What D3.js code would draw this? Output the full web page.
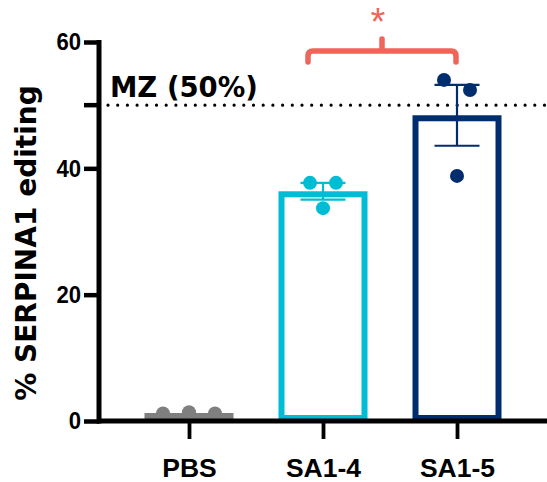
<!DOCTYPE html>
<html>
<head>
<meta charset="utf-8">
<script src="https://cdn.jsdelivr.net/npm/d3@7"></script>
<style>
  body { margin: 0; background: #fff; }
  svg { display: block; }
</style>
</head>
<body>
<svg width="547" height="482"></svg>
<script>
// groups and the three replicate values for each (% editing)
var groups = ['PBS', 'SA1-4', 'SA1-5'];
var pbsValues = [1.2, 1.4, 1.2];
var sa14Values = [37.7, 37.7, 33.7];
var sa15Values = [54.0, 52.4, 38.8];
var yTicks = [0, 20, 40, 60];
var mzLevel = 50;
var mzLabel = 'MZ (50%)';
var colors = ['#7f7f7f', '#00bcd4', '#002d6e'];

var allValues = [pbsValues, sa14Values, sa15Values];

var svg = d3.select('svg');

var y = d3.scaleLinear().domain([0, 60]).range([421, 42]);
var x = d3.scalePoint().domain(groups).range([189, 457]);

var barWidth = 89;
var barStroke = 6;
var dotR = 7;

// stats
var stats = allValues.map(function(v) {
  var m = d3.mean(v);
  var sem = d3.deviation(v) / Math.sqrt(v.length);
  return { mean: m, sem: sem };
});

// dotted MZ line
svg.append('line')
  .attr('x1', 108).attr('x2', 547)
  .attr('y1', y(mzLevel)).attr('y2', y(mzLevel))
  .attr('stroke', '#000')
  .attr('stroke-width', 3.2)
  .attr('stroke-linecap', 'round')
  .attr('stroke-dasharray', '0,9.7');

svg.append('text')
  .attr('x', 110).attr('y', y(mzLevel) - 8)
  .attr('font-family', 'DejaVu Sans, Verdana, sans-serif')
  .attr('font-weight', 'bold')
  .attr('font-size', 27.5)
  .text(mzLabel);

// bars (outline drawn inside the bar rectangle)
groups.forEach(function(g, i) {
  var top = y(stats[i].mean);
  var h = y(0) - top;
  var half = barStroke / 2;
  var rh = Math.max(h - barStroke, 0.5);
  svg.append('rect')
    .attr('x', x(g) - barWidth / 2 + half)
    .attr('y', top + half)
    .attr('width', barWidth - barStroke)
    .attr('height', rh)
    .attr('fill', h < barStroke ? colors[i] : 'none')
    .attr('stroke', colors[i])
    .attr('stroke-width', h < barStroke ? 0 : barStroke);
});

// simple beeswarm offsets: neighbours closer than a dot diameter sit side by side
function offsets(vals) {
  var res = vals.map(function() { return 0; });
  var used = vals.map(function() { return false; });
  for (var i = 0; i < vals.length; i++) {
    if (used[i]) continue;
    var grp = [i];
    used[i] = true;
    for (var j = i + 1; j < vals.length; j++) {
      if (!used[j] && Math.abs(y(vals[j]) - y(vals[i])) < dotR * 2) {
        grp.push(j); used[j] = true;
      }
    }
    grp.forEach(function(k, n) { res[k] = (n - (grp.length - 1) / 2) * 26; });
  }
  return res;
}

// dots
groups.forEach(function(g, i) {
  var off = offsets(allValues[i]);
  svg.selectAll(null)
    .data(allValues[i])
    .enter()
    .append('circle')
      .attr('cx', function(d, k) { return x(g) + off[k]; })
      .attr('cy', function(d) { return y(d); })
      .attr('r', dotR)
      .attr('fill', colors[i]);
});

// error bars (SEM)
groups.forEach(function(g, i) {
  if (i === 0) return;
  var s = stats[i];
  var eg = svg.append('g').attr('stroke', colors[i]).attr('stroke-width', 2.2);
  eg.append('line')
    .attr('x1', x(g)).attr('x2', x(g))
    .attr('y1', y(s.mean + s.sem)).attr('y2', y(s.mean - s.sem));
  [s.mean + s.sem, s.mean - s.sem].forEach(function(v) {
    eg.append('line')
      .attr('x1', x(g) - 22.5).attr('x2', x(g) + 22.5)
      .attr('y1', y(v)).attr('y2', y(v));
  });
});

// y axis
var yAxis = svg.append('g')
  .attr('transform', 'translate(99,0)')
  .call(d3.axisLeft(y).tickValues(yTicks).tickSize(15).tickPadding(3).tickSizeOuter(0));
yAxis.select('.domain').remove();
yAxis.selectAll('.tick line').attr('stroke', '#000').attr('stroke-width', 4.5);
// condensed look of the tick numbers
yAxis.selectAll('.tick text')
  .attr('font-family', "'Liberation Sans Narrow', 'Arial Narrow', 'Liberation Sans', sans-serif")
  .attr('font-weight', 'bold')
  .attr('font-size', 24)
  .attr('fill', '#000')
  .attr('textLength', function(d) { return String(d).length * 12.3; })
  .attr('lengthAdjust', 'spacingAndGlyphs');
yAxis.append('line')
  .attr('x1', -15).attr('x2', 0)
  .attr('y1', y(mzLevel)).attr('y2', y(mzLevel))
  .attr('stroke', '#000').attr('stroke-width', 4.5);
yAxis.append('line')
  .attr('x1', 0).attr('x2', 0)
  .attr('y1', y(60) - 2).attr('y2', y(0) + 2.5)
  .attr('stroke', '#000').attr('stroke-width', 5);

// x axis
var xAxis = svg.append('g')
  .attr('transform', 'translate(0,' + y(0) + ')')
  .call(d3.axisBottom(x).tickSize(18).tickPadding(19).tickSizeOuter(0));
xAxis.select('.domain').remove();
xAxis.selectAll('.tick line').attr('stroke', '#000').attr('stroke-width', 3.8);
xAxis.selectAll('.tick text')
  .attr('font-family', "'Liberation Sans', Arial, sans-serif")
  .attr('font-weight', 'bold')
  .attr('font-size', 26.5)
  .attr('fill', '#000');
xAxis.append('line')
  .attr('x1', 97).attr('x2', 547)
  .attr('y1', 0).attr('y2', 0)
  .attr('stroke', '#000').attr('stroke-width', 5);

// y label
svg.append('text')
  .attr('transform', 'translate(36,243) rotate(-90)')
  .attr('text-anchor', 'middle')
  .attr('font-family', 'DejaVu Sans, Verdana, sans-serif')
  .attr('font-weight', 'bold')
  .attr('font-size', 28)
  .text('% SERPINA1 editing');

// significance bracket
var bx1 = x('SA1-4') - 15, bx2 = x('SA1-5') - 1, by = 51, bmid = (bx1 + bx2) / 2;
svg.append('path')
  .attr('d', 'M' + bx1 + ',62 L' + bx1 + ',' + (by + 5) + ' Q' + bx1 + ',' + by + ' ' + (bx1 + 5) + ',' + by +
             ' L' + (bx2 - 5) + ',' + by + ' Q' + bx2 + ',' + by + ' ' + bx2 + ',' + (by + 5) + ' L' + bx2 + ',62' +
             ' M' + bmid + ',' + by + ' L' + bmid + ',39')
  .attr('fill', 'none')
  .attr('stroke', '#f0655a')
  .attr('stroke-width', 5.5)
  .attr('stroke-linecap', 'round');

svg.append('text')
  .attr('x', bmid - 4).attr('y', 35)
  .attr('text-anchor', 'middle')
  .attr('font-family', "'Liberation Sans', Arial, sans-serif")
  .attr('font-size', 38)
  .attr('fill', '#f0655a')
  .text('*');
</script>
</body>
</html>
